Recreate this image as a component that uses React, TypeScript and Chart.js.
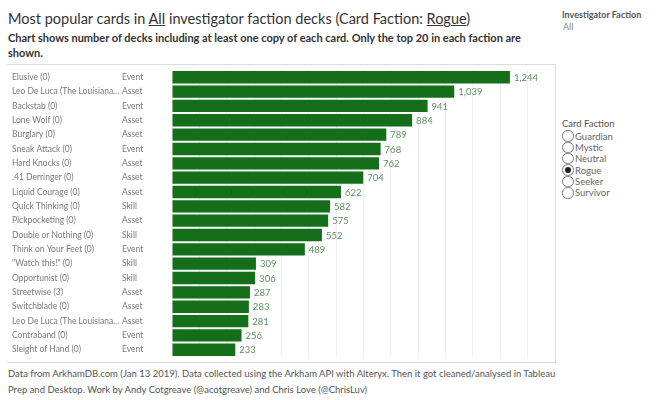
import React, { useEffect, useRef } from "react";
import { Chart, registerables } from "chart.js";

Chart.register(...registerables);

const cardNames = [
  "Elusive (0)",
  "Leo De Luca (The Louisiana...",
  "Backstab (0)",
  "Lone Wolf (0)",
  "Burglary (0)",
  "Sneak Attack (0)",
  "Hard Knocks (0)",
  ".41 Derringer (0)",
  "Liquid Courage (0)",
  "Quick Thinking (0)",
  "Pickpocketing (0)",
  "Double or Nothing (0)",
  "Think on Your Feet (0)",
  "\"Watch this!\" (0)",
  "Opportunist (0)",
  "Streetwise (3)",
  "Switchblade (0)",
  "Leo De Luca (The Louisiana...",
  "Contraband (0)",
  "Sleight of Hand (0)",
];

const cardTypes = [
  "Event", "Asset", "Event", "Asset", "Asset", "Event", "Asset", "Asset", "Asset", "Skill",
  "Asset", "Skill", "Event", "Skill", "Skill", "Asset", "Asset", "Asset", "Event", "Event",
];

const deckCounts = [
  1244, 1039, 941, 884, 789, 768, 762, 704, 622, 582,
  575, 552, 489, 309, 306, 287, 283, 281, 256, 233,
];

const factionOptions = ["Guardian", "Mystic", "Neutral", "Rogue", "Seeker", "Survivor"];
const selectedFaction = "Rogue";

const FONT = "Lato, 'Noto Sans', sans-serif";

const valueLabelPlugin = {
  id: "valueLabels",
  afterDatasetsDraw(chart: any) {
    const { ctx } = chart;
    const meta = chart.getDatasetMeta(0);
    ctx.save();
    ctx.font = `9.5px ${FONT}`;
    ctx.fillStyle = "#5f8f5f";
    ctx.textAlign = "left";
    ctx.textBaseline = "middle";
    meta.data.forEach((bar: any, i: number) => {
      const v = deckCounts[i];
      ctx.fillText(v.toLocaleString("en-US"), bar.x + 4, bar.y + 0.5);
    });
    ctx.restore();
  },
};

function BarChart() {
  const ref = useRef<HTMLCanvasElement>(null);
  useEffect(() => {
    if (!ref.current) return;
    const chart = new Chart(ref.current, {
      type: "bar",
      data: {
        labels: cardNames,
        datasets: [
          {
            data: deckCounts,
            backgroundColor: "#146e1a",
            barPercentage: 0.86,
            categoryPercentage: 1,
          },
        ],
      },
      options: {
        indexAxis: "y",
        animation: false,
        responsive: true,
        maintainAspectRatio: false,
        layout: { padding: { left: 5, right: 0, top: 0, bottom: 0 } },
        plugins: { legend: { display: false }, tooltip: { enabled: false } },
        scales: {
          x: {
            type: "linear",
            position: "bottom",
            min: 0,
            max: 1410,
            border: { display: false },
            grid: { color: "#efefef", drawTicks: false, lineWidth: 1 },
            ticks: { display: false, stepSize: 100 },
            afterFit: (s: any) => {
              s.height = 0;
            },
          },
          y: {
            type: "category",
            position: "left",
            weight: 10,
            border: { display: false },
            grid: { display: false, drawTicks: false },
            ticks: {
              crossAlign: "far",
              color: "#7a7a7a",
              font: { family: FONT, size: 8.5 },
              padding: 0,
              autoSkip: false,
            },
            afterFit: (s: any) => {
              s.width = 110;
            },
          },
          y2: {
            type: "category",
            position: "left",
            weight: 1,
            labels: cardTypes,
            offset: true,
            border: { display: false },
            grid: { display: false, drawTicks: false },
            ticks: {
              crossAlign: "far",
              color: "#7a7a7a",
              font: { family: FONT, size: 8.5 },
              padding: 0,
              autoSkip: false,
            },
            afterFit: (s: any) => {
              s.width = 50;
            },
          },
        },
      } as any,
      plugins: [valueLabelPlugin],
    });
    return () => chart.destroy();
  }, []);
  return <canvas ref={ref} />;
}

export default function App() {
  return (
    <div
      style={{
        position: "absolute",
        left: 0,
        top: 0,
        width: 667,
        height: 400,
        background: "#fff",
        fontFamily: FONT,
        overflow: "hidden",
      }}
    >
      <div style={{ position: "absolute", left: 8, top: 10, fontSize: 14.5, color: "#333", whiteSpace: "nowrap" }}>
        Most popular cards in <span style={{ textDecoration: "underline" }}>All</span> investigator faction decks (Card Faction:{" "}
        <span style={{ textDecoration: "underline" }}>Rogue</span>)
      </div>
      <div
        style={{
          position: "absolute",
          left: 8,
          top: 30,
          width: 540,
          fontSize: 11,
          fontWeight: 700,
          color: "#333",
          lineHeight: "15px",
        }}
      >
        Chart shows number of decks including at least one copy of each card. Only the top 20 in each faction are shown.
      </div>
      <div style={{ position: "absolute", left: 562, top: 9, fontSize: 9, color: "#555", fontWeight: 700 }}>
        Investigator Faction
      </div>
      <div style={{ position: "absolute", left: 563, top: 21, fontSize: 9, color: "#888" }}>All</div>
      <div style={{ position: "absolute", left: 562, top: 118, fontSize: 9.5, color: "#555" }}>Card Faction</div>
      {factionOptions.map((f, i) => (
        <div
          key={f}
          style={{
            position: "absolute",
            left: 562,
            top: 130.5 + i * 11.35,
            height: 11,
            display: "flex",
            alignItems: "center",
            fontSize: 9.5,
            color: "#666",
          }}
        >
          <span
            style={{
              display: "inline-block",
              width: 9.5,
              height: 9.5,
              borderRadius: "50%",
              border: "1px solid #777",
              background: "#fff",
              position: "relative",
              marginRight: 1.5,
            }}
          >
            {f === selectedFaction && (
              <span
                style={{
                  position: "absolute",
                  left: 1.75,
                  top: 1.75,
                  width: 6,
                  height: 6,
                  borderRadius: "50%",
                  background: "#222",
                }}
              />
            )}
          </span>
          {f}
        </div>
      ))}
      <div
        style={{
          position: "absolute",
          left: 7,
          top: 64,
          width: 548,
          height: 297,
          borderTop: "1px solid #dcdcdc",
          borderBottom: "1px solid #dcdcdc",
          borderRight: "1px solid #dcdcdc",
        }}
      >
        <div style={{ position: "relative", width: 548, height: 297 }}>
          <BarChart />
        </div>
      </div>
      <div
        style={{
          position: "absolute",
          left: 8,
          top: 366,
          width: 560,
          fontSize: 9.5,
          color: "#555",
          lineHeight: "16px",
        }}
      >
        Data from ArkhamDB.com (Jan 13 2019). Data collected using the Arkham API with Alteryx. Then it got cleaned/analysed in Tableau Prep and Desktop. Work by Andy Cotgreave (@acotgreave) and Chris Love (@ChrisLuv)
      </div>
    </div>
  );
}
